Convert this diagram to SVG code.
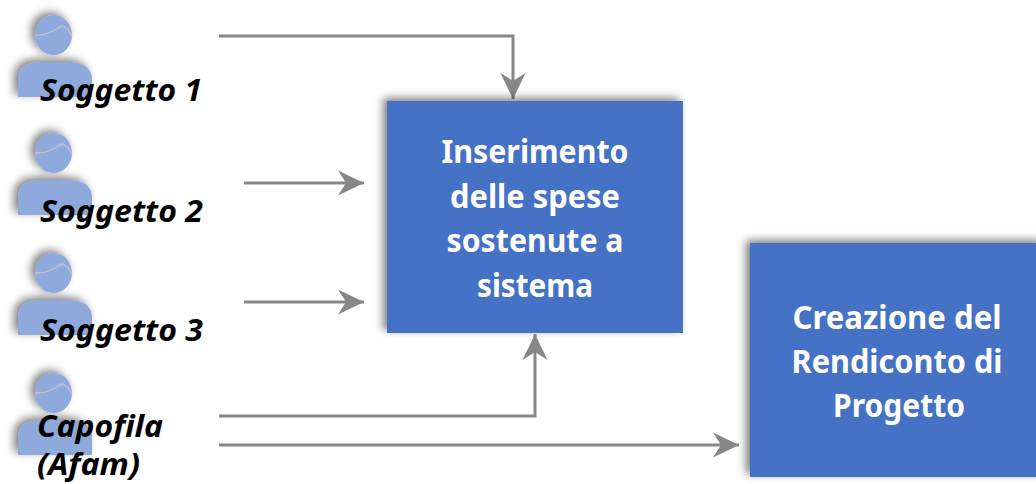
<svg xmlns="http://www.w3.org/2000/svg" width="1036" height="484" viewBox="0 0 1036 484">
<style>
.box{fill:#4472C4}
.btxt{font-family:"Noto Sans","Open Sans",sans-serif;font-weight:bold;font-size:32px;fill:#fff;text-anchor:middle}
.lbl{font-family:"Noto Sans","Open Sans",sans-serif;font-weight:bold;font-style:italic;font-size:31px;fill:#000}
.conn{fill:none;stroke:#878787;stroke-width:3}
.pfill{fill:#8EA9DB}
.hair{fill:none;stroke:#c4c4c4;stroke-width:1.5}
</style>
<defs>
<filter id="sh" x="-20%" y="-20%" width="140%" height="140%">
<feGaussianBlur in="SourceAlpha" stdDeviation="4"/>
<feOffset dx="-4" dy="-3" result="b"/>
<feFlood flood-color="#000" flood-opacity="0.5"/>
<feComposite in2="b" operator="in"/>
<feMerge><feMergeNode/><feMergeNode in="SourceGraphic"/></feMerge>
</filter>
<marker id="arr" markerUnits="userSpaceOnUse" markerWidth="30" markerHeight="30" viewBox="-28 -15 30 30" refX="0" refY="0" orient="auto">
<path d="M0,0 L-26,-12.5 L-18,0 L-26,12.5 Z" fill="#878787"/>
</marker>
<g id="person">
<path class="pfill" d="M18,97 L18,80 Q18,62 42,62 L68,62 Q92,62 92,80 L92,97 Z"/>
<ellipse class="pfill" cx="53.5" cy="35" rx="18.5" ry="20"/>
<path class="hair" d="M35,35 C46,36 55,30 62,26 C66,26 70,31 72,37"/>
</g>
</defs>

<g id="connectors">
<path class="conn" d="M219,36 L513,36 L513,99" marker-end="url(#arr)"/>
<path class="conn" d="M244,183 L364,183" marker-end="url(#arr)"/>
<path class="conn" d="M244,302 L364,302" marker-end="url(#arr)"/>
<path class="conn" d="M219,416 L535,416 L535,334" marker-end="url(#arr)"/>
<path class="conn" d="M219,445 L739,445" marker-end="url(#arr)"/>
</g>

<g id="soggetto1">
<use href="#person" filter="url(#sh)"/>
<text class="lbl" x="40" y="101" textLength="162" lengthAdjust="spacingAndGlyphs">Soggetto 1</text>
</g>
<g id="soggetto2">
<use href="#person" y="118" filter="url(#sh)"/>
<text class="lbl" x="40" y="222" textLength="163" lengthAdjust="spacingAndGlyphs">Soggetto 2</text>
</g>
<g id="soggetto3">
<use href="#person" y="238" filter="url(#sh)"/>
<text class="lbl" x="40" y="341" textLength="163" lengthAdjust="spacingAndGlyphs">Soggetto 3</text>
</g>
<g id="capofila">
<use href="#person" y="358" filter="url(#sh)"/>
<text class="lbl" x="37" y="437" textLength="126" lengthAdjust="spacingAndGlyphs">Capofila</text>
<text class="lbl" x="37" y="475" textLength="103" lengthAdjust="spacingAndGlyphs">(Afam)</text>
</g>

<g id="inserimento">
<rect class="box" x="387" y="101" width="296" height="232" filter="url(#sh)"/>
<text class="btxt" x="535" y="163" textLength="187" lengthAdjust="spacingAndGlyphs">Inserimento</text>
<text class="btxt" x="535" y="208" textLength="170" lengthAdjust="spacingAndGlyphs">delle spese</text>
<text class="btxt" x="535" y="252" textLength="177" lengthAdjust="spacingAndGlyphs">sostenute a</text>
<text class="btxt" x="535" y="297" textLength="116" lengthAdjust="spacingAndGlyphs">sistema</text>
</g>

<g id="rendiconto">
<rect class="box" x="750" y="243" width="296" height="234" filter="url(#sh)"/>
<text class="btxt" x="897" y="329" textLength="209" lengthAdjust="spacingAndGlyphs">Creazione del</text>
<text class="btxt" x="897" y="373" textLength="211" lengthAdjust="spacingAndGlyphs">Rendiconto di</text>
<text class="btxt" x="899" y="417" textLength="132" lengthAdjust="spacingAndGlyphs">Progetto</text>
</g>
</svg>
